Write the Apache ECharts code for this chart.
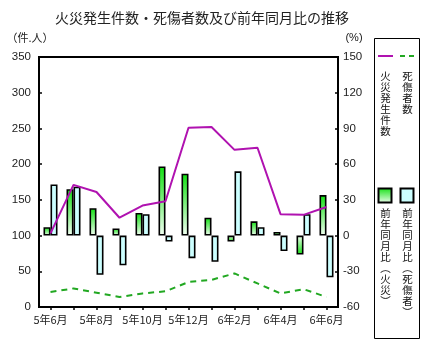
<!DOCTYPE html>
<html>
<head>
<meta charset="utf-8">
<script src="https://cdn.jsdelivr.net/npm/echarts@6/dist/echarts.min.js"></script>
<style>
html,body{margin:0;padding:0;background:#fff;}
#c{width:437px;height:360px;}
</style>
</head>
<body>
<div id="c"></div>
<script>
var months = ['5年6月','5年7月','5年8月','5年9月','5年10月','5年11月','5年12月','6年1月','6年2月','6年3月','6年4月','6年5月','6年6月'];
var fires = [103,171,161,125,142,148,251,252,220,223,130,129,140];
var casualties = [21,26,20,14,19,22,35,38,47,33,19,25,14];
var firePct = [7,39,23,6,19,58,52,15,-5,12,3,-16,34];
var casPct = [43,41,-33,-25,18,-5,-19,-22,54,7,-13,18,-35];
var leftTicks = {min:0, max:350, interval:50};
var rightTicks = {min:-60, max:150, interval:30};

var CJK = '"Noto Sans CJK JP", sans-serif';
var NUM = '"Liberation Sans", Arial, sans-serif';
var GREEN_TOP = '#12e012', GREEN_BOT = '#f2fff2';
function grad(rev){
  return new echarts.graphic.LinearGradient(0,0,0,1,[
    {offset:0,color: rev ? GREEN_BOT : GREEN_TOP},
    {offset:1,color: rev ? GREEN_TOP : GREEN_BOT}]);
}
function vtext(x, y, str){
  var chars = Array.from(str);
  return {type:'group', children: chars.map(function(ch, i){
    return {type:'text', x:x, y:y + i*11, style:{text:ch, fontFamily:'Noto Sans CJK JP', fontSize:10.5,
      fill:'#111', align:'center', verticalAlign:'top'}};
  })};
}
var chart = echarts.init(document.getElementById('c'), null, {renderer:'canvas'});
var option = {
  animation:false,
  backgroundColor:'#fff',
  title:{text:'火災発生件数・死傷者数及び前年同月比の推移', left:50, top:6,
    textStyle:{fontFamily:CJK, fontSize:14, fontWeight:'normal', color:'#222'}},
  grid:{left:39, right:99, top:57, bottom:53, show:true, borderColor:'#000', borderWidth:2, backgroundColor:'transparent'},
  xAxis:{type:'category', data:months, boundaryGap:true,
    axisLine:{lineStyle:{color:'#000', width:2}},
    axisTick:{show:true, alignWithLabel:true, interval:0, length:3, lineStyle:{color:'#000', width:1.5}},
    axisLabel:{interval:1, fontSize:11, margin:7, color:'#222', fontFamily:CJK},
    splitLine:{show:false}},
  yAxis:[
    {type:'value', min:leftTicks.min, max:leftTicks.max, interval:leftTicks.interval, position:'left',
     axisLine:{show:true, lineStyle:{color:'#000', width:2}},
     axisTick:{show:true, inside:true, length:3, lineStyle:{color:'#000', width:1.5}},
     axisLabel:{fontSize:11.5, margin:8, color:'#222', fontFamily:NUM},
     splitLine:{show:false}},
    {type:'value', min:rightTicks.min, max:rightTicks.max, interval:rightTicks.interval, position:'right',
     axisLine:{show:true, lineStyle:{color:'#000', width:2}},
     axisTick:{show:true, inside:true, length:3, lineStyle:{color:'#000', width:1.5}},
     axisLabel:{fontSize:11.5, margin:5, color:'#222', fontFamily:NUM},
     splitLine:{show:false}}
  ],
  series:[
    {name:'前年同月比（火災）', type:'bar', yAxisIndex:1, barWidth:7, barGap:'0%',
     data: firePct.map(function(v){return {value:v, itemStyle:{color:grad(v<0)}};}),
     itemStyle:{borderColor:'#000', borderWidth:1.6}, z:2},
    {name:'前年同月比（死傷者）', type:'bar', yAxisIndex:1, barWidth:7, barGap:'0%',
     data: casPct, itemStyle:{color:'#ccffff', borderColor:'#000', borderWidth:1.6}, z:2},
    {name:'火災発生件数', type:'line', yAxisIndex:0, data:fires, symbol:'none',
     lineStyle:{color:'#b012b0', width:2}, z:5},
    {name:'死傷者数', type:'line', yAxisIndex:0, data:casualties, symbol:'none',
     lineStyle:{color:'#22a822', width:2, type:[6,5]}, z:5}
  ],
  graphic:[
    {type:'text', x:30, y:38, style:{text:'（件.人）', fontFamily:'Noto Sans CJK JP', fontSize:11, fill:'#222', align:'center', verticalAlign:'middle'}},
    {type:'text', x:354, y:38, style:{text:'(%)', fontFamily:'Liberation Sans', fontSize:11, fill:'#222', align:'center', verticalAlign:'middle'}},
    {type:'rect', shape:{x:374.5, y:38.5, width:45, height:300}, style:{fill:'#fff', stroke:'#000', lineWidth:1}},
    {type:'line', shape:{x1:378, y1:56, x2:393, y2:56}, style:{stroke:'#b012b0', lineWidth:2}},
    {type:'line', shape:{x1:400, y1:56, x2:416, y2:56}, style:{stroke:'#22a822', lineWidth:2, lineDash:[5,4]}},
    vtext(385.5, 71, '火災発生件数'),
    vtext(407.5, 71, '死傷者数'),
    {type:'rect', shape:{x:378.5, y:188.5, width:13, height:14}, style:{fill:grad(false), stroke:'#000', lineWidth:2}},
    {type:'rect', shape:{x:400.5, y:188.5, width:13, height:14}, style:{fill:'#ccffff', stroke:'#000', lineWidth:2}},
    vtext(385.5, 208, '前年同月比︵火災︶'),
    vtext(407.5, 208, '前年同月比︵死傷者︶')
  ]
};
chart.setOption(option);
</script>
</body>
</html>
